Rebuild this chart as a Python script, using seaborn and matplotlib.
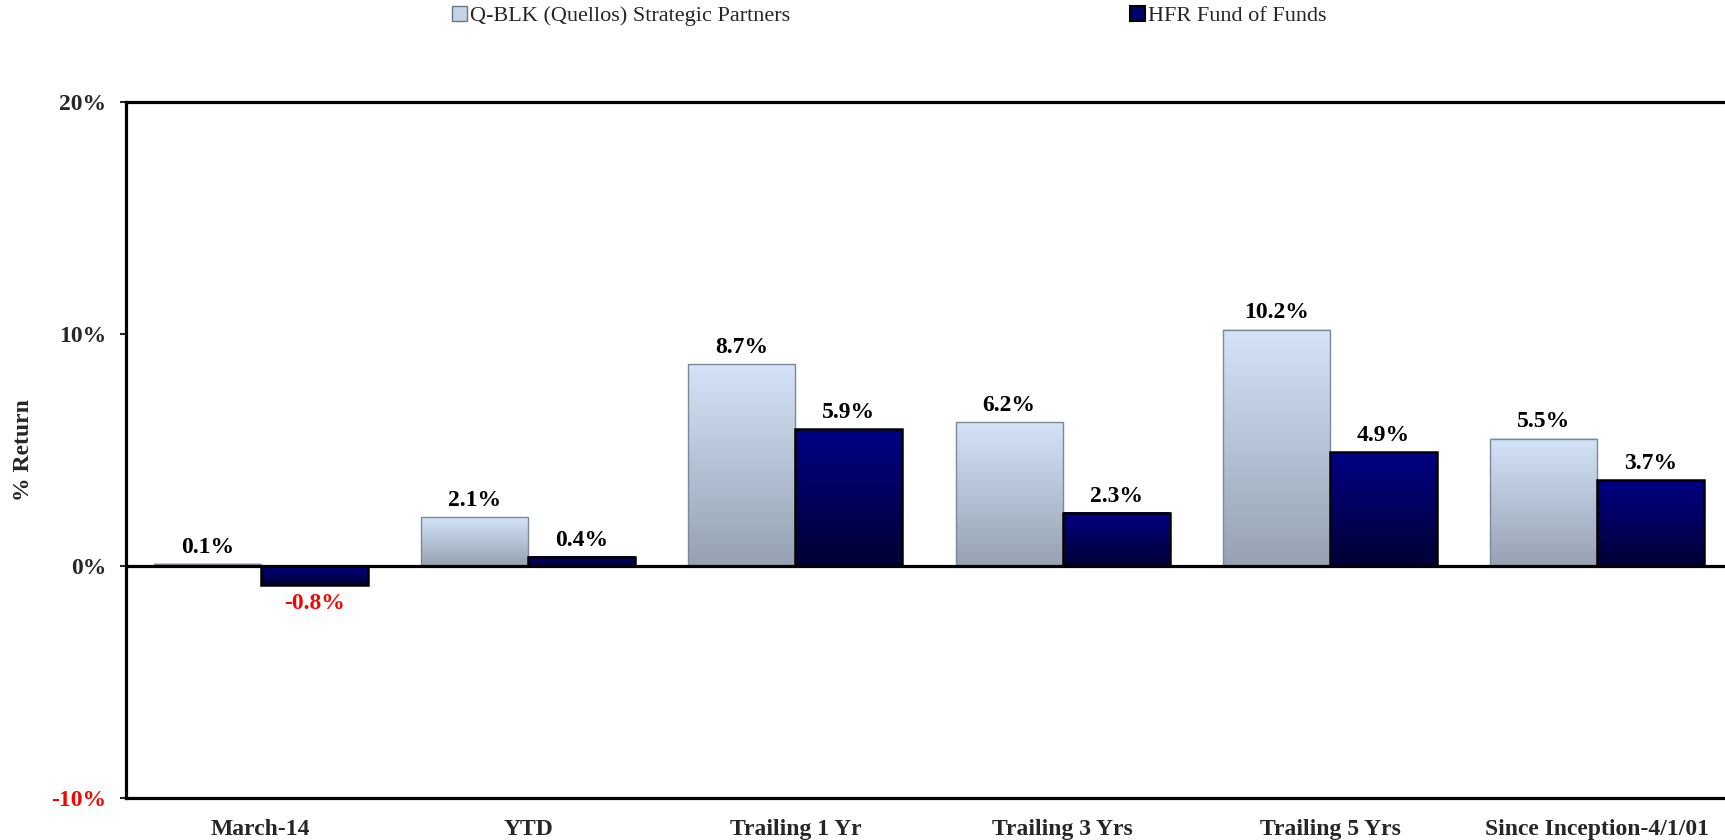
import numpy as np
import pandas as pd
import matplotlib.pyplot as plt
import seaborn as sns
from matplotlib.colors import LinearSegmentedColormap
from matplotlib.patches import Patch

periods = ["March-14", "YTD", "Trailing 1 Yr", "Trailing 3 Yrs", "Trailing 5 Yrs",
           "Since Inception-4/1/01"]
funds = ["Q-BLK (Quellos) Strategic Partners", "HFR Fund of Funds"]
quellos = [0.1, 2.1, 8.7, 6.2, 10.2, 5.5]
hfr = [-0.8, 0.4, 5.9, 2.3, 4.9, 3.7]
yticks = [-10, 0, 10, 20]

df = pd.DataFrame({
    "period": periods * 2,
    "fund": [funds[0]] * len(periods) + [funds[1]] * len(periods),
    "ret": quellos + hfr,
})

sns.set_style("ticks")
plt.rcParams["font.family"] = ["Liberation Serif", "DejaVu Serif"]

light_top, light_bot = "#d4e3f8", "#96a2b3"
dark_top, dark_bot = "#000085", "#000033"

fig = plt.figure(figsize=(17.25, 8.4), dpi=100)
ax = fig.add_axes([0.0728, 0.0503, 0.9272, 0.8277])

sns.barplot(data=df, x="period", y="ret", hue="fund", hue_order=funds,
            palette=[light_top, dark_top], width=0.8, ax=ax, legend=False)

# gradient fill behind each bar
grad = np.linspace(0, 1, 256).reshape(-1, 1)
cmaps = [LinearSegmentedColormap.from_list("l", [light_bot, light_top]),
         LinearSegmentedColormap.from_list("d", [dark_bot, dark_top])]
edges = [("#7c8898", 1.0), ("black", 1.8)]
for cont, cm, (ec, lw) in zip(ax.containers, cmaps, edges):
    for bar in cont:
        x0 = bar.get_x()
        w = bar.get_width()
        y0 = bar.get_y()
        h = bar.get_height()
        lo, hi = min(y0, y0 + h), max(y0, y0 + h)
        ax.imshow(grad, extent=(x0, x0 + w, lo, hi), origin="lower",
                  aspect="auto", cmap=cm, zorder=1)
        bar.set_facecolor("none")
        bar.set_edgecolor(ec)
        bar.set_linewidth(lw)
        bar.set_zorder(2)

# value labels
for cont, vals in zip(ax.containers, [quellos, hfr]):
    for bar, v in zip(cont, vals):
        xc = bar.get_x() + bar.get_width() / 2
        if v >= 0:
            ax.annotate(f"{v:.1f}%", (xc, v), xytext=(0, 12), textcoords="offset points",
                        ha="center", va="center", fontsize=17, fontweight="bold",
                        color="black")
        else:
            ax.annotate(f"{v:.1f}%", (xc, v), xytext=(0, -14), textcoords="offset points",
                        ha="center", va="center", fontsize=17, fontweight="bold",
                        color="red")

ax.axhline(0, color="black", lw=2.3, zorder=3)

ax.set_xlim(-0.506, 5.478)
ax.set_ylim(-10, 20)
ax.set_yticks(yticks)
ax.set_yticklabels([f"{t}%" for t in yticks], fontsize=17, fontweight="bold")
for lab, t in zip(ax.get_yticklabels(), yticks):
    if t < 0:
        lab.set_color("red")
ax.tick_params(axis="y", length=4, width=1.5, pad=10, direction="out")
ax.tick_params(axis="x", length=0, pad=15)
for lab in ax.get_xticklabels():
    lab.set_fontsize(17)
    lab.set_fontweight("bold")

ax.set_xlabel("")
ax.set_ylabel("% Return", fontsize=17, fontweight="bold", labelpad=12)

ax.spines["right"].set_visible(False)
for s in ["left", "top", "bottom"]:
    ax.spines[s].set_linewidth(2.3)
    ax.spines[s].set_color("black")

handles = [Patch(facecolor="#c6d3e6", edgecolor="#6c7888", lw=1),
           Patch(facecolor="#00006e", edgecolor="black", lw=1.5)]
fig.legend(handles, funds, loc="center", bbox_to_anchor=(0.5157, 0.981), ncol=2,
           frameon=False, fontsize=16, handlelength=0.65, handleheight=0.65,
           handletextpad=0.15, columnspacing=15.3, borderpad=0)

fig.savefig("out.png", dpi=100)
